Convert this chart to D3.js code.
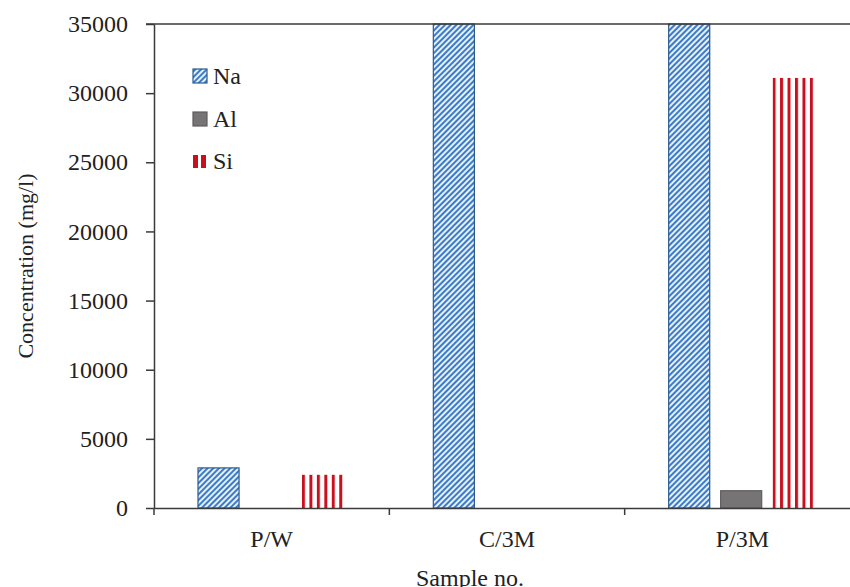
<!DOCTYPE html>
<html>
<head>
<meta charset="utf-8">
<script src="https://cdn.jsdelivr.net/npm/d3@7"></script>
<style>
  body { margin: 0; background: #fff; }
  svg text { font-family: "Liberation Serif", "Times New Roman", serif; fill: #222; }
</style>
</head>
<body>
<svg id="chart" width="850" height="587"></svg>
<script>
var samples = ["P/W", "C/3M", "P/3M"];
var elements = ["Na", "Al", "Si"];
// Na for C/3M and P/3M run off the top of the chart (clipped at 35000)
var naValues = [2900, 38000, 38000];
var alValues = [0, 0, 1250];
var siValues = [2400, 0, 31100];
var yTicks = [0, 5000, 10000, 15000, 20000, 25000, 30000, 35000];

var svg = d3.select("#chart");
var plotLeft = 154, plotRight = 860, plotTop = 24, plotBottom = 508;
var fontSize = "24px";

var xScale = d3.scaleBand()
    .domain(samples)
    .range([plotLeft, plotRight]);

var inner = d3.scaleBand()
    .domain(elements)
    .range([44, 189])
    .paddingInner(0.21);

var yScale = d3.scaleLinear()
    .domain([0, 35000])
    .range([plotBottom, plotTop])
    .clamp(true);

var rows = samples.map((s, i) => ({sample: s, Na: naValues[i], Al: alValues[i], Si: siValues[i]}));

// patterns
var defs = svg.append("defs");
var naPat = defs.append("pattern")
    .attr("id", "pat-na")
    .attr("patternUnits", "userSpaceOnUse")
    .attr("width", 4).attr("height", 4)
    .attr("patternTransform", "rotate(45)");
naPat.append("rect").attr("width", 4).attr("height", 4).attr("fill", "#e6f0fb");
naPat.append("rect").attr("width", 2).attr("height", 4).attr("fill", "#3b7bc8");

var siPat = defs.append("pattern")
    .attr("id", "pat-si")
    .attr("patternUnits", "objectBoundingBox")
    .attr("width", 1 / 5.5).attr("height", 1);
siPat.append("rect").attr("width", 8).attr("height", 600).attr("fill", "#ffffff");
siPat.append("rect").attr("width", 3).attr("height", 600).attr("fill", "#c8101e");

var fills = {Na: "url(#pat-na)", Al: "#767474", Si: "url(#pat-si)"};
var strokes = {Na: "#2c5a8e", Al: "#5f5d5d", Si: "none"};

// bars
var groups = svg.append("g")
    .selectAll("g")
    .data(rows)
    .enter()
    .append("g")
    .attr("transform", d => "translate(" + xScale(d.sample) + ",0)");

groups.selectAll("rect")
    .data(d => elements.map(k => ({key: k, value: d[k]})).filter(v => v.value > 0))
    .enter()
    .append("rect")
    .attr("x", d => inner(d.key))
    .attr("y", d => yScale(d.value))
    .attr("width", inner.bandwidth())
    .attr("height", d => plotBottom - yScale(d.value))
    .attr("fill", d => fills[d.key])
    .attr("stroke", d => strokes[d.key])
    .attr("stroke-width", 1.2);

// top line at 35000
svg.append("line")
    .attr("x1", plotLeft - 8).attr("x2", 850)
    .attr("y1", yScale(35000)).attr("y2", yScale(35000))
    .attr("stroke", "#3a3a3a").attr("stroke-width", 1.5);

// y axis
var yAxis = svg.append("g")
    .attr("transform", "translate(" + plotLeft + ",0)")
    .call(d3.axisLeft(yScale)
        .tickValues(yTicks)
        .tickSize(8)
        .tickPadding(18)
        .tickSizeOuter(0)
        .tickFormat(d3.format("d")));
yAxis.select(".domain").attr("stroke", "#3a3a3a").attr("stroke-width", 1.5);
yAxis.selectAll(".tick line").attr("stroke", "#3a3a3a").attr("stroke-width", 1.5);
yAxis.selectAll(".tick text").style("font-size", fontSize).style("font-family", "Liberation Serif").attr("fill", "#222");

// x axis
var xAxis = svg.append("g")
    .attr("transform", "translate(0," + plotBottom + ")")
    .call(d3.axisBottom(xScale).tickSize(0).tickPadding(22));
xAxis.select(".domain").attr("stroke", "#3a3a3a").attr("stroke-width", 1.5);
xAxis.selectAll(".tick text").style("font-size", fontSize).style("font-family", "Liberation Serif").attr("fill", "#222");

// category boundary ticks
svg.append("g")
    .selectAll("line")
    .data(samples)
    .enter()
    .append("line")
    .attr("x1", d => xScale(d)).attr("x2", d => xScale(d))
    .attr("y1", plotBottom).attr("y2", plotBottom + 7)
    .attr("stroke", "#3a3a3a").attr("stroke-width", 1.5);

// axis titles
svg.append("text")
    .attr("transform", "translate(33," + (plotTop + plotBottom) / 2 + ") rotate(-90)")
    .attr("text-anchor", "middle")
    .style("font-size", "22px")
    .text("Concentration (mg/l)");

svg.append("text")
    .attr("x", 470).attr("y", 586)
    .attr("text-anchor", "middle")
    .style("font-size", fontSize)
    .text("Sample no.");

// legend
var legendY = [76, 119, 161];
var legend = svg.append("g")
    .selectAll("g")
    .data(elements)
    .enter()
    .append("g")
    .attr("transform", (d, i) => "translate(193," + legendY[i] + ")");

legend.filter(d => d !== "Si")
    .append("rect")
    .attr("x", 0).attr("y", -7)
    .attr("width", 14).attr("height", 14)
    .attr("fill", d => fills[d])
    .attr("stroke", d => strokes[d])
    .attr("stroke-width", 1.2);

legend.filter(d => d === "Si")
    .selectAll("rect")
    .data([0, 8])
    .enter()
    .append("rect")
    .attr("x", d => d).attr("y", -6)
    .attr("width", 5).attr("height", 13)
    .attr("fill", "#c8101e");

legend.append("text")
    .attr("x", 20).attr("y", 8)
    .style("font-size", fontSize)
    .text(d => d);
</script>
</body>
</html>
